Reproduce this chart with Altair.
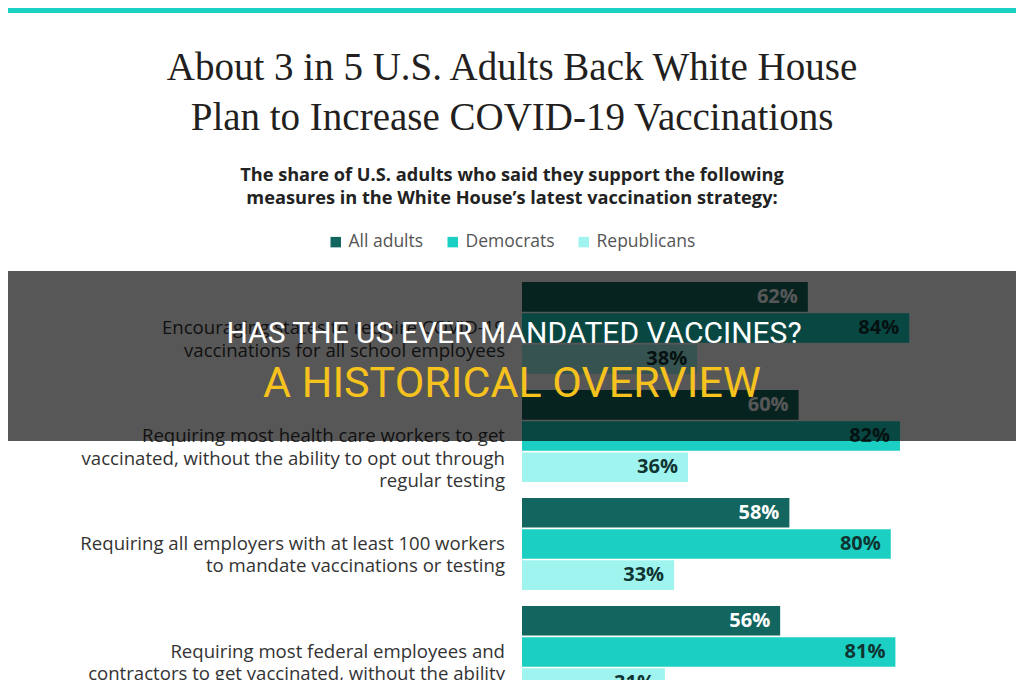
import altair as alt
import pandas as pd

# ---------------- data ----------------
measures = [
    "Encouraging states to require COVID-19\nvaccinations for all school employees",
    "Requiring most health care workers to get\nvaccinated, without the ability to opt out through\nregular testing",
    "Requiring all employers with at least 100 workers\nto mandate vaccinations or testing",
    "Requiring most federal employees and\ncontractors to get vaccinated, without the ability\nto opt out through regular testing",
]
groups = ["All adults", "Democrats", "Republicans"]
all_adults = [62, 60, 58, 56]
democrats = [84, 82, 80, 81]
republicans = [38, 36, 33, 31]

title_text = "About 3 in 5 U.S. Adults Back White House\nPlan to Increase COVID-19 Vaccinations"
subtitle_text = ("The share of U.S. adults who said they support the following\n"
                 "measures in the White House\u2019s latest vaccination strategy:")
overlay_line1 = "HAS THE US EVER MANDATED VACCINES?"
overlay_line2 = "A HISTORICAL OVERVIEW"

bar_colors = ["#12665f", "#1ccfc3", "#9ff4ef"]
label_colors = ["#ffffff", "#0f3532", "#0f3532"]

rows = []
for i, m in enumerate(measures):
    for g, vals, lc in zip(groups, [all_adults, democrats, republicans], label_colors):
        rows.append({"measure": m, "group": g, "value": vals[i],
                     "label": f"{vals[i]}%", "lcolor": lc})
df = pd.DataFrame(rows)

W, H = 1008, 672
SANS = "Open Sans"

xscale = alt.Scale(domain=[0, 100], range=[514, 975])
yscale = alt.Scale(domain=measures, range=[274, 690], paddingInner=0.148, paddingOuter=0)
offscale = alt.Scale(domain=groups, paddingInner=0.05, paddingOuter=0)

base = alt.Chart(df)

bars = base.mark_bar().encode(
    x=alt.X("value:Q", scale=xscale, axis=None),
    y=alt.Y("measure:N", scale=yscale, axis=None, sort=measures),
    yOffset=alt.YOffset("group:N", scale=offscale, sort=groups),
    color=alt.Color(
        "group:N",
        scale=alt.Scale(domain=groups, range=bar_colors),
        legend=alt.Legend(
            title=None, orient="none", legendX=319, legendY=225,
            direction="horizontal", symbolType="square", symbolSize=110,
            symbolStrokeWidth=0, labelFont=SANS, labelFontSize=17.5,
            labelColor="#555555", columnPadding=20, labelOffset=4,
        ),
    ),
)

values = base.mark_text(
    align="right", baseline="middle", dx=-10, font=SANS, fontWeight="bold", fontSize=20
).encode(
    x=alt.X("value:Q", scale=xscale),
    y=alt.Y("measure:N", scale=yscale, sort=measures),
    yOffset=alt.YOffset("group:N", scale=offscale, sort=groups),
    text="label:N",
    color=alt.Color("lcolor:N", scale=None),
)

cat_df = pd.DataFrame({"measure": measures})
cats = alt.Chart(cat_df).mark_text(
    align="right", baseline="middle", lineBreak="\n", lineHeight=22.5,
    font=SANS, fontSize=18.6, color="#333333"
).encode(
    x=alt.value(497),
    y=alt.Y("measure:N", scale=yscale, sort=measures),
    text="measure:N",
)

top_band = alt.Chart(pd.DataFrame({"a": [1]})).mark_rect(color="#1ccfc3").encode(
    x=alt.value(0), x2=alt.value(W), y=alt.value(0), y2=alt.value(5)
)

title = alt.Chart(pd.DataFrame({"t": [title_text]})).mark_text(
    align="center", baseline="alphabetic", lineBreak="\n", lineHeight=50,
    font="Liberation Serif", fontSize=39, color="#231f20"
).encode(x=alt.value(504), y=alt.value(72), text="t:N")

subtitle = alt.Chart(pd.DataFrame({"t": [subtitle_text]})).mark_text(
    align="center", baseline="alphabetic", lineBreak="\n", lineHeight=23,
    font=SANS, fontWeight="bold", fontSize=18.2, color="#222222"
).encode(x=alt.value(504), y=alt.value(173), text="t:N")

overlay = alt.Chart(pd.DataFrame({"a": [1]})).mark_rect(color="#000000", opacity=0.66).encode(
    x=alt.value(-8), x2=alt.value(W + 8), y=alt.value(263), y2=alt.value(433)
)

ov1 = alt.Chart(pd.DataFrame({"t": [overlay_line1]})).mark_text(
    align="center", baseline="alphabetic", font="Roboto", fontSize=30, color="#ffffff"
).encode(x=alt.value(506), y=alt.value(335), text="t:N")

ov2 = alt.Chart(pd.DataFrame({"t": [overlay_line2]})).mark_text(
    align="center", baseline="alphabetic", font="Roboto", fontSize=43, color="#f6c21d"
).encode(x=alt.value(504), y=alt.value(389), text="t:N")

chart = alt.layer(
    top_band, title, subtitle, bars, values, cats, overlay, ov1, ov2
).properties(
    width=W, height=H, autosize=alt.AutoSizeParams(type="none"), padding=0,
    background="#ffffff"
).configure_view(stroke=None)

chart.save("out.html", embed_options={"renderer": "svg", "actions": False})
